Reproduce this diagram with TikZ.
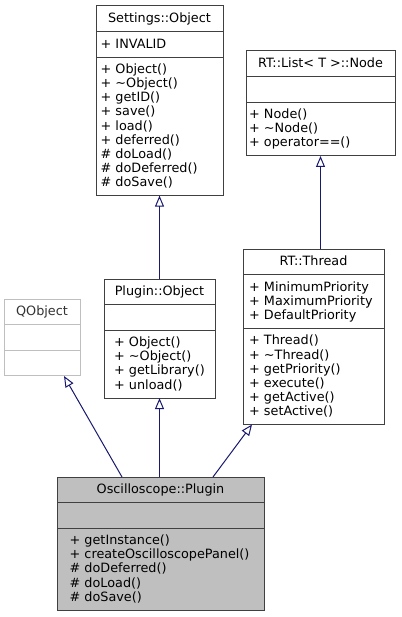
\documentclass[tikz,border=0pt]{standalone}
\usepackage{fontspec}
\setmainfont{DejaVu Sans}
\usetikzlibrary{arrows.meta}
\definecolor{cedge}{RGB}{ 25, 25,112}
\definecolor{cframe}{RGB}{ 64, 64, 64}
\definecolor{cgrey}{RGB}{191,191,191}
% frame of one class: #1 name, #2 style, #3 left, #4 top, #5 right,
% #6 lines in attribute field, #7 lines in method field
\newcommand{\classframe}[7]{%
  \pgfmathsetmacro{\ya}{#4+25.6}%
  \pgfmathsetmacro{\yb}{\ya+11.5+14.1*#6}%
  \pgfmathsetmacro{\yc}{\yb+11.5+14.1*#7}%
  \pgfmathsetmacro{\bw}{#5-#3}%
  \pgfmathsetmacro{\bh}{\yc-#4}%
  \node[#2,anchor=north west,minimum width=\bw pt,minimum height=\bh pt] (#1) at (#3,#4) {};
  \draw[#2] (#3,\ya) -- (#5,\ya);
  \draw[#2] (#3,\yb) -- (#5,\yb);
  \coordinate (#1-title) at ({(#3+#5)/2},#4+16.5);
  \coordinate (#1-attr) at (#3,\ya+16.5);
  \coordinate (#1-meth) at (#3,\yb+16.5);
}
% one line per member: #1 name prefix, #2 start coordinate, #3 indent, #4 list
\newcommand{\memberlist}[4]{%
  \foreach \mem [count=\k from 0] in {#4}
    \node[member] (#1\k) at ([xshift=#3pt,yshift={-14.1pt*\k}]#2) {\mem};
}
\tikzset{
  umltext/.style={font=\fontsize{12.8}{14.1}\selectfont,inner sep=0pt},
  member/.style={umltext,anchor=base west},
  classname/.style={umltext,anchor=base},
  classbox/.style={draw=cframe,fill=white,line width=1pt,inner sep=0pt,outer sep=0pt},
  extbox/.style={draw=cgrey,fill=white,line width=1pt,inner sep=0pt,outer sep=0pt},
  focusbox/.style={draw=cframe,fill=cgrey,line width=1pt,inner sep=0pt,outer sep=0pt},
  inherit/.style={draw=cedge,line width=1pt,-{Triangle[open,length=11pt,width=9pt]}}
}
\begin{document}
\begin{tikzpicture}[x=1pt,y=-1pt]

  \path[use as bounding box] (0,0) rectangle (401,617);

  % ---------------- base classes ----------------
  \classframe{settings}{classbox}{96}{6}{223}{1}{9}
  \node[classname] (settings-name) at (settings-title) {Settings::Object};
  \memberlist{settings-a}{settings-attr}{4.5}{+ INVALID}
  \memberlist{settings-m}{settings-meth}{4.5}{+ Object(), + \textasciitilde Object(), + getID(), + save(), + load(), + deferred(), \# doLoad(), \# doDeferred(), \# doSave()}

  \classframe{listnode}{classbox}{246}{51}{395}{1}{3}
  \node[classname] (listnode-name) at (listnode-title) {RT::List< T >::Node};
  \memberlist{listnode-m}{listnode-meth}{3}{+ Node(), + \textasciitilde Node(), + operator==()}

  \classframe{qobject}{extbox}{4}{299}{80}{1}{1}
  \node[classname,text=black!80] (qobject-name) at (qobject-title) {QObject};

  \classframe{plugin}{classbox}{104}{279}{215}{1}{4}
  \node[classname] (plugin-name) at (plugin-title) {Plugin::Object};
  \memberlist{plugin-m}{plugin-meth}{10}{+ Object(), + \textasciitilde Object(), + getLibrary(), + unload()}

  \classframe{thread}{classbox}{243}{249}{384}{3}{6}
  \node[classname] (thread-name) at (thread-title) {RT::Thread};
  \memberlist{thread-a}{thread-attr}{6}{+ MinimumPriority, + MaximumPriority, + DefaultPriority}
  \memberlist{thread-m}{thread-meth}{6}{+ Thread(), + \textasciitilde Thread(), + getPriority(), + execute(), + getActive(), + setActive()}

  % ---------------- the documented class ----------------
  \classframe{osc}{focusbox}{57}{477}{264}{1}{5}
  \node[classname] (osc-name) at (osc-title) {Oscilloscope::Plugin};
  \memberlist{osc-m}{osc-meth}{12.5}{+ getInstance(), + createOscilloscopePanel(), \# doDeferred(), \# doLoad(), \# doSave()}

  % ---------------- inheritance ----------------
  \coordinate (osc-to-qobject) at (122,477);
  \coordinate (qobject-tip) at (64,376);
  \coordinate (osc-to-thread) at (213,477);
  \coordinate (thread-tip) at (252,424.5);
  \draw[inherit] (osc-to-qobject) -- (qobject-tip);
  \draw[inherit] (osc.north -| plugin.south) -- (plugin.south);
  \draw[inherit] (osc-to-thread) -- (thread-tip);
  \draw[inherit] (plugin.north) -- (settings.south);
  \draw[inherit] (thread.north -| listnode.south) -- (listnode.south);

\end{tikzpicture}
\end{document}
